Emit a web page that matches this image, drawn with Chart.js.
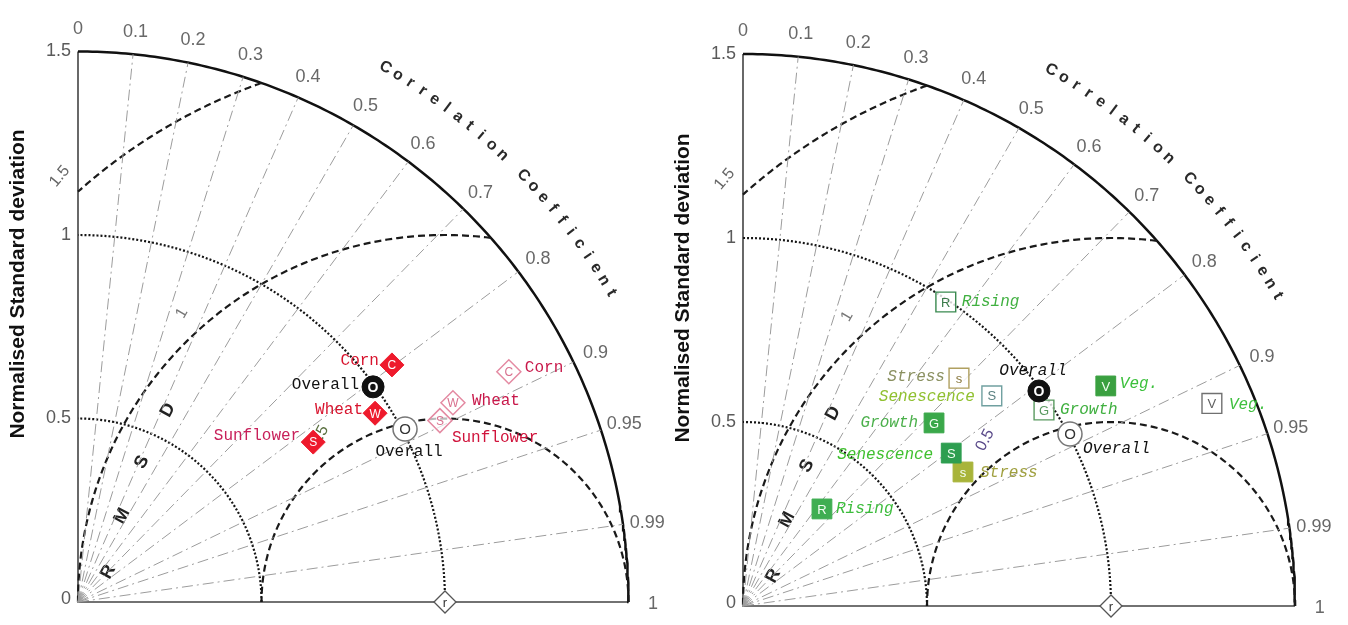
<!DOCTYPE html>
<html>
<head>
<meta charset="utf-8">
<script src="https://cdn.jsdelivr.net/npm/chart.js@4.4.1/dist/chart.umd.min.js"></script>
<style>
  html, body { margin: 0; padding: 0; background: #fff; }
  #wrap { position: relative; width: 1348px; height: 625px; }
  canvas { position: absolute; top: 0; }
  #left { left: 0; }
  #right { left: 674px; }
</style>
</head>
<body>
<div id="wrap">
  <canvas id="left" width="674" height="625"></canvas>
  <canvas id="right" width="674" height="625"></canvas>
</div>
<script>
// axes of the Taylor diagram
const corrTicks = [0, 0.1, 0.2, 0.3, 0.4, 0.5, 0.6, 0.7, 0.8, 0.9, 0.95, 0.99, 1];
const corrRays = [0.1, 0.2, 0.3, 0.4, 0.5, 0.6, 0.7, 0.8, 0.9, 0.95, 0.99];
const stdTicks = [0, 0.5, 1, 1.5];
const stdArcs = [0.5, 1];
const rmsArcs = [0.5, 1, 1.5];
const maxStd = 1.5;

// left panel - crops
const cropNames = ['Corn', 'Wheat', 'Sunflower'];
const cropLetters = ['C', 'W', 'S'];
const cropStdFilled = [1.072, 0.959, 0.775];
const cropCorrFilled = [0.798, 0.844, 0.827];
const cropStdOpen = [1.331, 1.157, 1.103];
const cropCorrOpen = [0.882, 0.883, 0.894];
const cropOverallStd = [0.995, 1.008];   // filled, open
const cropOverallCorr = [0.808, 0.884];

// right panel - growth stages
const stageNames = ['Rising', 'Growth', 'Veg.', 'Stress', 'Senescence'];
const stageLetters = ['R', 'G', 'V', 's', 'S'];
const stageStdFilled = [0.340, 0.719, 1.153, 0.700, 0.702];
const stageCorrFilled = [0.631, 0.722, 0.855, 0.854, 0.806];
const stageStdOpen = [0.993, 0.976, 1.388, 0.853, 0.885];
const stageCorrOpen = [0.555, 0.838, 0.918, 0.688, 0.764];
const stageOverallStd = [0.994, 1.004];
const stageOverallCorr = [0.809, 0.885];

const refPoint = [1, 1];  // std, corr of the reference

function toXY(std, corr) {
  return { x: std * corr, y: std * Math.sqrt(Math.max(0, 1 - corr * corr)) };
}

function line(pts, color, width, dash) {
  return { data: pts, showLine: true, pointRadius: 0, borderColor: color, borderWidth: width,
    borderDash: dash, fill: false, tension: 0, order: 5, clip: false };
}

function gridSets() {
  const sets = [];
  corrRays.forEach(r => sets.push(line([toXY(0, r), toXY(maxStd, r)], '#9c9c9c', 1, [11, 4, 2, 4])));
  stdArcs.forEach(s => {
    const pts = [];
    for (let i = 0; i <= 120; i++) pts.push(toXY(s, Math.cos(i / 120 * Math.PI / 2)));
    sets.push(line(pts, '#151515', 2.2, [2, 2]));
  });
  // rms arcs round the reference point, cut at the outer arc and the y axis
  rmsArcs.forEach(R => {
    const a0 = Math.acos(Math.min(1, (maxStd * maxStd - 1 - R * R) / (2 * R)));
    const a1 = Math.acos(Math.max(-1, -1 / R));
    const pts = [];
    for (let i = 0; i <= 120; i++) {
      const a = a0 + (a1 - a0) * i / 120;
      pts.push({ x: 1 + R * Math.cos(a), y: R * Math.sin(a) });
    }
    sets.push(line(pts, '#1a1a1a', 2.2, [7, 4]));
  });
  const outer = [];
  for (let i = 0; i <= 180; i++) outer.push(toXY(maxStd, Math.cos(i / 180 * Math.PI / 2)));
  sets.push(line(outer, '#111', 2.5, []));
  sets.push(line([{ x: 0, y: maxStd }, { x: 0, y: 0 }, { x: maxStd, y: 0 }], '#444', 1.6, []));
  return sets;
}

function markers(stds, corrs, style) {
  return Object.assign({
    data: stds.map((s, i) => toXY(s, corrs[i])),
    showLine: false, order: 0, clip: false, pointHoverRadius: 0
  }, style);
}

const taylorText = {
  id: 'taylorText',
  beforeDatasetsDraw(chart, args, opts) {
    const ctx = chart.ctx;
    const px = v => chart.scales.x.getPixelForValue(v);
    const py = v => chart.scales.y.getPixelForValue(v);
    ctx.save();
    // correlation tick labels
    ctx.fillStyle = '#686868';
    ctx.font = '18px "Liberation Sans", Arial';
    ctx.textAlign = 'center';
    ctx.textBaseline = 'middle';
    corrTicks.forEach(c => {
      const p = toXY(1.567, c);
      ctx.fillText(String(c), px(p.x), py(p.y) + 2);
    });
    // std labels
    ctx.textAlign = 'right';
    ctx.fillStyle = '#5a5a5a';
    stdTicks.forEach(s => ctx.fillText(String(s), px(0) - 7, py(s) + (s === 0 ? -3 : 0)));
    // rms labels
    const rmsLab = [['1.5', -0.05, 1.16, -50, '#666'], ['1', 0.283, 0.787, -60, '#777'], ['0.5', 0.658, 0.451, -62, opts.halfColor]];
    ctx.textAlign = 'center';
    rmsLab.forEach(l => {
      ctx.save();
      ctx.translate(px(l[1]), py(l[2]));
      ctx.rotate(l[3] * Math.PI / 180);
      ctx.fillStyle = l[4];
      ctx.font = '16px "Liberation Sans", Arial';
      ctx.fillText(l[0], 0, 0);
      ctx.restore();
    });
    // RMSD letters
    const rmsd = [['R', 0.082, 0.082], ['M', 0.12, 0.234], ['S', 0.174, 0.381], ['D', 0.245, 0.523]];
    rmsd.forEach(l => {
      ctx.save();
      ctx.translate(px(l[1]), py(l[2]));
      ctx.rotate(-62 * Math.PI / 180);
      ctx.fillStyle = '#222';
      ctx.font = 'bold 18px "Liberation Sans", Arial';
      ctx.fillText(l[0], 0, 0);
      ctx.restore();
    });
    // y axis title
    ctx.save();
    ctx.translate(px(0) - 60, py(0) - 318);
    ctx.rotate(-Math.PI / 2);
    ctx.fillStyle = '#111';
    ctx.font = 'bold 21px "Liberation Sans", Arial';
    ctx.fillText('Normalised Standard deviation', 0, 0, 316);
    ctx.restore();
    // curved title
    const title = 'Correlation Coefficient';
    const a0 = 60.1, a1 = 30.1;
    ctx.font = 'bold 16px "Liberation Sans", Arial';
    ctx.fillStyle = '#2a2a2a';
    for (let i = 0; i < title.length; i++) {
      const a = (a0 - (a0 - a1) * i / (title.length - 1)) * Math.PI / 180;
      ctx.save();
      ctx.translate(px(1.68 * Math.cos(a)), py(1.68 * Math.sin(a)));
      ctx.rotate(Math.PI / 2 - a);
      ctx.fillText(title[i], 0, 0);
      ctx.restore();
    }
    ctx.restore();
  },
  afterDatasetsDraw(chart, args, opts) {
    const ctx = chart.ctx;
    ctx.save();
    ctx.textBaseline = 'middle';
    chart.data.datasets.forEach((ds, di) => {
      if (!ds.letters) return;
      const meta = chart.getDatasetMeta(di);
      meta.data.forEach((el, i) => {
        ctx.textAlign = 'center';
        ctx.font = ds.letterFont;
        ctx.fillStyle = Array.isArray(ds.letterColor) ? ds.letterColor[i] : ds.letterColor;
        ctx.fillText(ds.letters[i], el.x, el.y + 1);
        if (ds.names) {
          ctx.font = opts.nameFont;
          ctx.textAlign = Array.isArray(ds.nameAlign) ? ds.nameAlign[i] : ds.nameAlign;
          ctx.fillStyle = Array.isArray(ds.nameColor) ? ds.nameColor[i] : ds.nameColor;
          ctx.fillText(ds.names[i], el.x + ds.nameDx[i], el.y + ds.nameDy[i]);
        }
      });
    });
    ctx.restore();
  }
};

function makeTaylor(id, ox, oy, unit, markerSets, textOpts) {
  const w = 674, h = 625;
  return new Chart(document.getElementById(id), {
    type: 'scatter',
    data: { datasets: markerSets.concat(gridSets()) },
    options: {
      responsive: false,
      animation: false,
      events: [],
      layout: { padding: 0, autoPadding: false },
      plugins: { legend: { display: false }, tooltip: { enabled: false }, taylorText: textOpts },
      scales: {
        x: { type: 'linear', display: false, bounds: 'data', min: -ox / unit, max: (w - ox) / unit },
        y: { type: 'linear', display: false, bounds: 'data', min: -(h - oy) / unit, max: oy / unit }
      }
    },
    plugins: [taylorText]
  });
}

const refSet = markers([refPoint[0]], [refPoint[1]], {
  pointStyle: 'rectRot', pointRadius: 11, pointBackgroundColor: '#fff', pointBorderColor: '#555',
  pointBorderWidth: 1.3, letters: ['r'], letterColor: '#333', letterFont: '13px "Liberation Sans"'
});

// left panel
makeTaylor('left', 78, 602, 367, [
  markers([cropOverallStd[0]], [cropOverallCorr[0]], {
    pointStyle: 'circle', pointRadius: 11, pointBackgroundColor: '#111', pointBorderColor: '#111',
    letters: ['O'], letterColor: '#fff', letterFont: 'bold 14px "Liberation Sans"',
    names: ['Overall'], nameColor: '#111', nameAlign: 'right', nameDx: [-14], nameDy: [-2]
  }),
  markers(cropStdFilled, cropCorrFilled, {
    pointStyle: 'rectRot', pointRadius: 12, pointBackgroundColor: '#ee1a2c', pointBorderColor: '#ee1a2c',
    letters: cropLetters, letterColor: '#fff', letterFont: '12px "Liberation Sans"',
    names: cropNames, nameColor: ['#d8142e', '#d8142e', '#c8205a'], nameAlign: 'right',
    nameDx: [-13, -12, -13], nameDy: [-4, -3, -6]
  }),
  markers([cropOverallStd[1]], [cropOverallCorr[1]], {
    pointStyle: 'circle', pointRadius: 12, pointBackgroundColor: '#fff', pointBorderColor: '#777',
    pointBorderWidth: 1.5, letters: ['O'], letterColor: '#333', letterFont: '15px "Liberation Sans"',
    names: ['Overall'], nameColor: '#111', nameAlign: 'center', nameDx: [4], nameDy: [23]
  }),
  markers(cropStdOpen, cropCorrOpen, {
    pointStyle: 'rectRot', pointRadius: 12, pointBackgroundColor: 'rgba(255,255,255,0.7)', pointBorderColor: '#e48aa2',
    pointBorderWidth: 1.5, letters: cropLetters, letterColor: '#d8708e', letterFont: '12px "Liberation Sans"',
    names: cropNames, nameColor: ['#c8184a', '#c8184a', '#d0143c'], nameAlign: 'left',
    nameDx: [16, 19, 12], nameDy: [-4, -2, 17]
  }),
  refSet
], { halfColor: '#5a7040', nameFont: '16px "Liberation Mono", monospace' });

// right panel
makeTaylor('right', 69, 606, 368, [
  markers([stageOverallStd[0]], [stageOverallCorr[0]], {
    pointStyle: 'circle', pointRadius: 11, pointBackgroundColor: '#111', pointBorderColor: '#111',
    letters: ['O'], letterColor: '#fff', letterFont: 'bold 14px "Liberation Sans"',
    names: ['Overall'], nameColor: '#111', nameAlign: 'center', nameDx: [-6], nameDy: [-20]
  }),
  markers(stageStdFilled, stageCorrFilled, {
    pointStyle: 'rect', pointRadius: 14,
    pointBackgroundColor: ['#3fae52', '#3aa84a', '#3aa040', '#a8b43a', '#2e9e50'],
    pointBorderColor: ['#3fae52', '#3aa84a', '#3aa040', '#a8b43a', '#2e9e50'],
    letters: stageLetters, letterColor: '#f4fff4', letterFont: '13px "Liberation Sans"',
    names: stageNames, nameColor: ['#3cbc3c', '#4cb04c', '#3cc03c', '#a0a040', '#40c030'],
    nameAlign: ['left', 'right', 'left', 'left', 'right'],
    nameDx: [14, -16, 14, 17, -18], nameDy: [0, 0, -2, 1, 2]
  }),
  markers([stageOverallStd[1]], [stageOverallCorr[1]], {
    pointStyle: 'circle', pointRadius: 12, pointBackgroundColor: '#fff', pointBorderColor: '#777',
    pointBorderWidth: 1.5, letters: ['O'], letterColor: '#333', letterFont: '15px "Liberation Sans"',
    names: ['Overall'], nameColor: '#111', nameAlign: 'left', nameDx: [13], nameDy: [15]
  }),
  markers(stageStdOpen, stageCorrOpen, {
    pointStyle: 'rect', pointRadius: 14, pointBackgroundColor: 'rgba(255,255,255,0.8)',
    pointBorderColor: ['#3a8a50', '#5a9a60', '#707070', '#b0a060', '#70a0a0'], pointBorderWidth: 1.4,
    letters: stageLetters, letterColor: ['#3a7a4a', '#5a9a60', '#606060', '#8a7a40', '#5a8080'],
    letterFont: '13px "Liberation Sans"',
    names: stageNames, nameColor: ['#40b040', '#40b040', '#40c040', '#8a9060', '#90c030'],
    nameAlign: ['left', 'left', 'left', 'right', 'right'],
    nameDx: [16, 16, 17, -14, -17], nameDy: [0, 0, 1, -1, 1]
  }),
  refSet
], { halfColor: '#5a4a8a', nameFont: 'italic 16px "Liberation Mono", monospace' });
</script>
</body>
</html>
